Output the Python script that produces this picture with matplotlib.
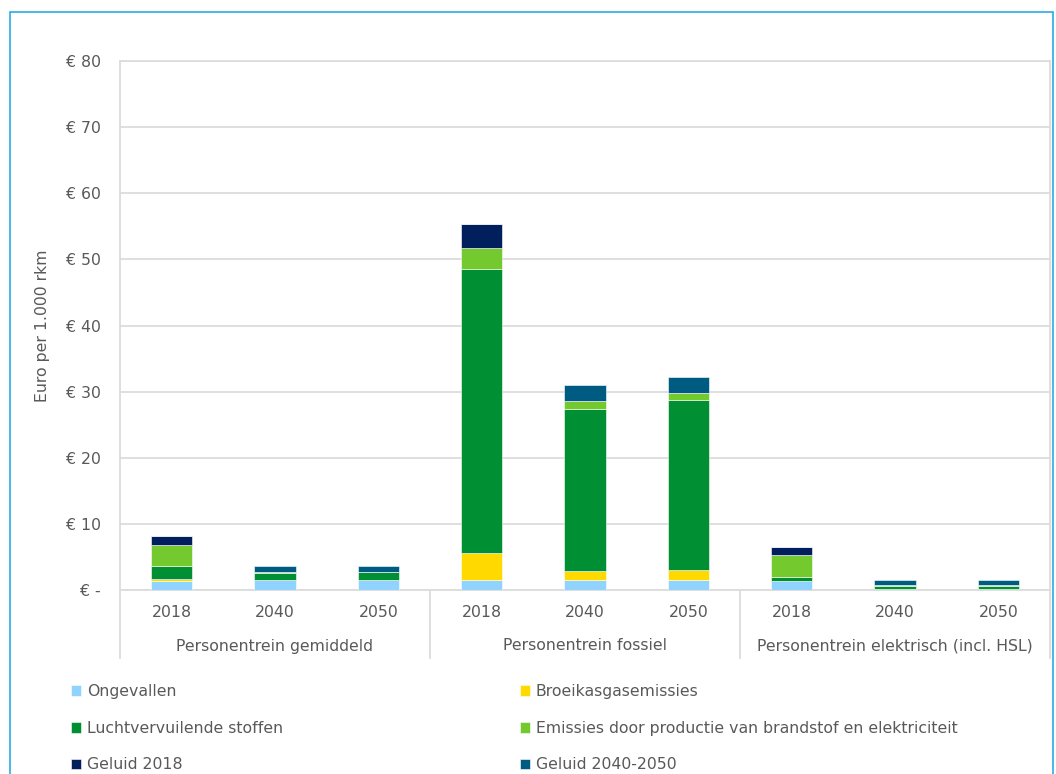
import matplotlib.pyplot as plt
from matplotlib.patches import Rectangle
from matplotlib.lines import Line2D

plt.rcParams['font.family'] = ['DejaVu Sans']

groups = ['Personentrein gemiddeld', 'Personentrein fossiel', 'Personentrein elektrisch (incl. HSL)']
years = ['2018', '2040', '2050']

# euro per 1.000 reizigerskilometer, per categorie (3 groepen x 3 jaren)
ongevallen = [1.4, 1.45, 1.45, 1.5, 1.55, 1.55, 1.4, 0.15, 0.15]
broeikas = [0.2, 0.0, 0.0, 4.15, 1.25, 1.55, 0.0, 0.0, 0.0]
lucht = [2.05, 1.15, 1.2, 42.9, 24.6, 25.6, 0.6, 0.5, 0.5]
emissies = [3.2, 0.05, 0.05, 3.2, 1.15, 1.15, 3.3, 0.05, 0.05]
geluid_2018 = [1.25, 0.0, 0.0, 3.6, 0.0, 0.0, 1.15, 0.0, 0.0]
geluid_2040_2050 = [0.0, 0.95, 0.95, 0.0, 2.4, 2.4, 0.0, 0.85, 0.85]

series = [
    ('Ongevallen', ongevallen, '#8fd3fe'),
    ('Broeikasgasemissies', broeikas, '#ffd900'),
    ('Luchtvervuilende stoffen', lucht, '#008f32'),
    ('Emissies door productie van brandstof en elektriciteit', emissies, '#73c92d'),
    ('Geluid 2018', geluid_2018, '#001f5c'),
    ('Geluid 2040-2050', geluid_2040_2050, '#005b82'),
]

text_color = '#595959'
grid_color = '#dcdcdc'
fs = 11.3

fig = plt.figure(figsize=(10.56, 7.74), dpi=100)
ax = fig.add_axes([120 / 1056, 1 - 590 / 774, 930 / 1056, 529 / 774])

x = list(range(len(ongevallen)))
bottom = [0.0] * len(x)
handles = {}
for name, vals, color in series:
    bars = ax.bar(x, vals, 0.4, bottom=bottom, color=color,
                  edgecolor='white', linewidth=0.4, zorder=3)
    handles[name] = bars
    bottom = [b + v for b, v in zip(bottom, vals)]

ax.set_xlim(-0.5, len(x) - 0.5)
ax.set_ylim(0, 80)
ax.set_yticks(range(0, 81, 10))
ax.set_yticklabels(['€ -'] + [f'€ {v}' for v in range(10, 81, 10)])
ax.set_xticks(x)
ax.set_xticklabels(years * 3)
ax.tick_params(axis='both', length=0, labelsize=fs, labelcolor=text_color)
ax.tick_params(axis='y', pad=14)
ax.tick_params(axis='x', pad=11)
ax.yaxis.grid(True, color=grid_color, linewidth=1.3, zorder=0)
for side in ax.spines:
    ax.spines[side].set_color(grid_color)
    ax.spines[side].set_linewidth(1.3)
ax.set_ylabel('Euro per 1.000 rkm', fontsize=fs, color=text_color, labelpad=11)

# group labels and separators under the category axis
depth = (658 - 590) / 529
for i, g in enumerate(groups):
    ax.text((i * 3 + 1.5) / 9, -(646 - 590) / 529, g, transform=ax.transAxes,
            ha='center', va='center', fontsize=fs, color=text_color)
for i in range(4):
    ax.add_line(Line2D([i / 3, i / 3], [0, -depth], transform=ax.transAxes,
                       color=grid_color, linewidth=1.3, clip_on=False))

# legend, filled row by row
order = ['Ongevallen', 'Luchtvervuilende stoffen', 'Geluid 2018',
         'Broeikasgasemissies', 'Emissies door productie van brandstof en elektriciteit',
         'Geluid 2040-2050']
fig.legend([handles[n] for n in order], order, loc='upper left',
           bbox_to_anchor=(57 / 1056, 1 - 670 / 774), ncol=2, frameon=False,
           fontsize=fs, labelcolor=text_color, handlelength=0.65, handleheight=0.65,
           handletextpad=0.35, columnspacing=15.1, labelspacing=1.38)

# outer frame
fig.add_artist(Rectangle((10 / 1056, -0.05), 1043 / 1056, 1.05 - 12 / 774,
                         transform=fig.transFigure, fill=False,
                         edgecolor='#29abe2', linewidth=1.2))

fig.savefig('out.png', dpi=100)
